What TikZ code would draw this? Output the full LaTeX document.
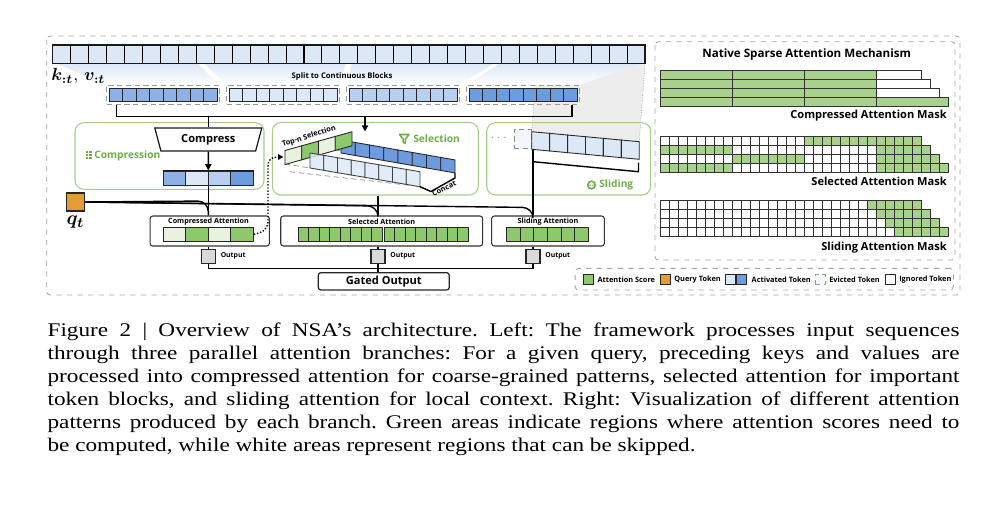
\documentclass[tikz,border=0pt]{standalone}
\usepackage{amsmath}
\usepackage{bm}
\usepackage{fontspec}
\setmainfont{Liberation Serif}[FakeStretch=1.2]
\newfontfamily\figfont{Open Sans}
\usepackage{tikz}
\usetikzlibrary{positioning}
\usetikzlibrary{calc}
\usetikzlibrary{arrows.meta}
\usetikzlibrary{shapes.geometric}
\frenchspacing

\definecolor{tokA}{HTML}{DDE8F7}
\definecolor{tokB}{HTML}{B9CFEF}
\definecolor{tokC}{HTML}{8EB0E4}
\definecolor{tokD}{HTML}{6E9BDE}
\definecolor{attG}{HTML}{8DC86C}
\definecolor{attL}{HTML}{E8F2DF}
\definecolor{maskG}{HTML}{A9D18E}
\definecolor{qOrange}{HTML}{E59B36}
\definecolor{brGreen}{HTML}{A4CF8A}
\definecolor{txGreen}{HTML}{6FAE45}
\definecolor{outGray}{HTML}{D9D9D9}
\definecolor{frameGray}{HTML}{A6A6A6}

\newcommand{\ff}[1]{\figfont\bfseries\fontsize{#1}{#1}\selectfont}

\tikzset{
  lbl/.style={inner sep=0pt},
  cell/.style={draw=black!85, line width=0.5pt},
  mcell/.style={draw=black!80, line width=0.35pt},
  attbox/.style={draw=black!80, rounded corners=1.5pt, line width=0.6pt, minimum height=0.6cm, inner sep=0pt},
  outbox/.style={draw=black!85, fill=outGray, line width=0.7pt, minimum size=0.28cm, inner sep=0pt},
  grbox/.style={draw=brGreen, rounded corners=5pt, line width=0.6pt, inner sep=0pt},
  tokframe/.style={draw=black!40, densely dashed, line width=0.4pt, minimum width=2.25cm, minimum height=0.38cm, inner sep=0pt},
  legsq/.style={draw=black!85, line width=0.5pt, minimum size=0.2cm, inner sep=0pt},
  wire/.style={line width=0.8pt},
  capline/.style={anchor=base west, inner sep=0pt, font=\fontsize{11}{13}\selectfont},
}

\begin{document}
\begin{tikzpicture}[x=0.02cm, y=-0.02cm]
\useasboundingbox (0,0) rectangle (1000,504);

% frames
\draw[frameGray, dashed, line width=0.5pt, rounded corners=2pt] (46.7,36) rectangle (960,295);
\draw[frameGray, dashed, line width=0.5pt, rounded corners=2pt] (655,41.7) rectangle (955,260);

% sliding window shadow
\fill[black!7] (537,63.3) -- (645,63.3) -- (639.3,141.7) -- (531.7,131.7) -- cycle;
\draw[black!40, densely dotted] (537,63.3) -- (531.7,131.7);
\draw[black!40, densely dotted] (645,63.3) -- (639.3,141.7);

% split shading
\foreach \i in {0,...,3}
  \shade[top color=tokA, bottom color=white] ({55.7+148.1*\i},63.3) -- ({197.8+148.1*\i},63.3) -- ({219.3+120*\i},85) -- ({106.7+120*\i},85) -- cycle;

% green branch boxes
\node[grbox, minimum width=3.78cm, minimum height=1.332cm] (gcomp) at (169.5,156) {};
\node[grbox, minimum width=4.12cm, minimum height=1.45cm] (gsel) at (375.3,158.75) {};
\node[grbox, minimum width=3.28cm, minimum height=1.446cm] (gslid) at (568.7,158.85) {};

% keys / values
\node[draw=black!90, fill=tokA, line width=0.7pt, minimum width=11.846cm, minimum height=0.366cm, inner sep=0pt] (kv) at (348.85,54.15) {};
\foreach \i in {1,...,32}
  \draw[line width=0.6pt] ({52.7+17.95*\i},45) -- ({52.7+17.95*\i},63.3);
\node[lbl, anchor=west, font=\fontsize{10}{10}\selectfont] (kvlab) at (51,76) {$\bm{k_{:t}},\,\bm{v_{:t}}$};
\node[lbl, font=\ff{4.4}] (split) at (342,76) {Split to Continuous Blocks};

% blocks
\foreach \i/\c in {0/tokC,1/tokA,2/tokB,3/tokD} {
  \node[tokframe] (b\i) at ({163+120*\i},94.7) {};
  \foreach \j in {0,...,7}
    \draw[cell, fill=\c] ({109+120*\i+13.5*\j},88) rectangle ++(13.5,13.5);
}
\coordinate (bus) at (0,115.7);
\draw[wire] ($(b0.south west)+(10,0)$) -- ($(b0.south west)+(10,11.7)$) -| ($(b3.south east)+(-7.5,0)$);

% compression
\node[draw=black!90, fill=white, line width=0.7pt, trapezium, shape border rotate=180, trapezium left angle=60, trapezium right angle=60, trapezium stretches body, minimum width=2.14cm, minimum height=0.46cm, inner sep=0pt, font=\ff{6.3}] (cmp) at (208.3,139.5) {Compress};
\draw[wire] (cmp.north |- bus) -- (cmp.north);
\node[draw=black!90, line width=0.7pt, minimum width=1.8cm, minimum height=0.28cm, inner sep=0pt] (ctok) at (208.3,178) {};
\foreach \j/\c in {0/tokC,1/tokA,2/tokB,3/tokD}
  \draw[cell, fill=\c] ({163.3+22.5*\j},171) rectangle ++(22.5,14);
\draw[wire, -{Triangle[length=3.5pt,width=3.5pt]}] (cmp.south) -- (ctok.north);
\foreach \a in {0,1} \foreach \b in {0,1,2}
  \fill[txGreen] ({85.5+\a*3.6},{151.3+\b*2.8}) rectangle ++(2.6,1.7);
\node[lbl, anchor=west, text=txGreen, font=\ff{5.8}] (lcomp) at (94,155.5) {Compression};

% selection
\coordinate (selin) at (365,131.5);
\draw[wire, -{Triangle[length=3.5pt,width=3.5pt]}] (selin |- bus) -- (selin);
\draw[txGreen, line width=0.9pt, line join=round] (399.5,134.5) -- (409,134.5) -- (405.3,139.3) -- (405.3,143.5) -- (403.2,142) -- (403.2,139.3) -- cycle;
\node[lbl, anchor=west, text=txGreen, font=\ff{5.8}] (lsel) at (413,139) {Selection};
\draw[black!45, densely dashed, line width=0.4pt] (285,164) -- (310,168);
\draw[black!45, densely dashed, line width=0.4pt] (290,171.7) -- (421.7,186.7);
\draw[black!45, densely dashed, line width=0.4pt] (318,147) -- (447,169);
\foreach \j in {0,...,7}
  \draw[cell, fill=tokD] ({341+14.25*\j},{140+2.49*\j}) -- ++(14.25,2.49) -- ++(0,13) -- ++(-14.25,-2.49) -- cycle;
\foreach \j/\c in {0/attL,1/attG,2/attL,3/attG}
  \draw[cell, fill=\c] ({285+16.75*\j},{150.5-4.69*\j}) -- ++(16.75,-4.69) -- ++(0,14) -- ++(-16.75,4.69) -- cycle;
\foreach \j in {0,...,7}
  \draw[cell, draw=black!75, fill=tokA, fill opacity=0.85] ({310+13.75*\j},{153+2.34*\j}) -- ++(13.75,2.34) -- ++(0,15) -- ++(-13.75,-2.34) -- cycle;
\draw[wire] (420,186.7) -- (431,191.5) -- (455,178) -- (455,173);
\node[lbl, rotate=26, font=\ff{4.2}] (concat) at (444,188.5) {Concat};
\node[lbl, rotate=18, font=\ff{4.2}] (topn) at (309,136.5) {Top-n Selection};
\coordinate (tsel) at (283.5,157);

% sliding
\node[lbl] (dots) at (500,138) {\textcolor{black!50}{\ff{6}$\cdots$}};
\node[draw=black!45, densely dashed, fill=tokA!35, minimum width=0.354cm, minimum height=0.38cm, inner sep=0pt] (ev) at (522.8,138.8) {};
\foreach \j in {0,...,5}
  \draw[cell, fill=tokA] ({531.7+17.93*\j},{131.7+1.667*\j}) -- ++(17.93,1.667) -- ++(0,17.6) -- ++(-17.93,-1.667) -- cycle;
\draw[wire] (533,161.7) -- (638.5,171.7) -- (638.5,162.5);
\coordinate (wl) at (533,149.5);
\draw[txGreen, line width=0.9pt] (591.5,185) circle (3.8);
\fill[txGreen] (590,185.3) circle (0.9) (593,185.3) circle (0.9);
\node[lbl, anchor=west, text=txGreen, font=\ff{5.8}] (lslid) at (599,185) {Sliding};

% query
\node[draw=black!85, fill=qOrange, line width=0.7pt, minimum size=0.36cm, inner sep=0pt] (q) at (75.8,202) {};
\node[lbl, font=\fontsize{11}{11}\selectfont] (qlab) at (75.5,222) {$\bm{q_t}$};

% attention branches
\node[attbox, minimum width=2.386cm] (catt) at (209.7,231) {};
\node[attbox, minimum width=4.04cm] (satt) at (381.7,231) {};
\node[attbox, minimum width=2.252cm] (watt) at (548,231) {};
\node[lbl, font=\ff{4.1}] (t1) at (208.5,221.5) {Compressed Attention};
\node[lbl, font=\ff{4.1}] (t2) at (381.7,221.5) {Selected Attention};
\node[lbl, font=\ff{4.1}] (t3) at (548,221.5) {Sliding Attention};
\node[draw=black!85, line width=0.6pt, minimum width=1.8cm, minimum height=0.27cm, inner sep=0pt] (cac) at (208.3,234.3) {};
\foreach \j/\c in {0/attL,1/attG,2/attL,3/attG}
  \draw[cell, fill=\c] ({163.3+22.5*\j},227.5) rectangle ++(22.5,13.5);
\foreach \j in {0,...,7}
  \draw[cell, fill=attG] ({298.3+10.5*\j},227.5) rectangle ++(10.5,13.5);
\foreach \j in {0,...,7}
  \draw[cell, fill=attG] ({384.3+10.5*\j},227.5) rectangle ++(10.5,13.5);
\foreach \j in {0,...,5}
  \draw[cell, fill=attG] ({506.7+13.6*\j},227.8) rectangle ++(13.6,13.6);

% outputs
\node[outbox] (o1) at (208.3,256.3) {};
\node[outbox] (o2) at (378,256.3) {};
\node[outbox] (o3) at (533,256.3) {};
\node[lbl, right=0.09cm of o1, font=\ff{3.9}] (ol1) {Output};
\node[lbl, right=0.09cm of o2, font=\ff{3.9}] (ol2) {Output};
\node[lbl, right=0.09cm of o3, font=\ff{3.9}] (ol3) {Output};
\node[draw=black!85, line width=0.7pt, rounded corners=1.5pt, minimum width=2.62cm, minimum height=0.346cm, inner sep=0pt, font=\ff{6.3}] (gated) at (383.8,281.3) {Gated Output};
\coordinate (bot) at (0,268.3);

\draw[wire] (ctok.south) -- (catt.north -| ctok.south);
\draw[wire] (gsel.south -| o2) -- (satt.north -| o2);
\draw[wire] (wl) -- (watt.north -| o3);
\draw[wire, rounded corners=6pt] (q.east) -- (208.3,201) -- (catt.north -| o1);
\draw[wire, rounded corners=6pt] (q.east) -- (378,206) -- (satt.north -| o2);
\draw[wire, rounded corners=6pt] (q.east) -- (533,207.5) -- (watt.north -| o3);
\draw[wire] (catt.south -| o1) -- (o1.north);
\draw[wire] (satt.south -| o2) -- (o2.north);
\draw[wire] (watt.south -| o3) -- (o3.north);
\draw[wire] (o1.south) -- (o1.south |- bot) -| (o3.south);
\draw[wire] (o2.south) -- (gated.north -| o2);
\draw[wire, densely dotted, -{Triangle[length=3pt,width=3pt]}] (cac.east) .. controls (265,232) and (268,228) .. (268,220) -- (268,166) .. controls (268,159) and (272,157) .. (tsel);

% right panel
\node[lbl, font=\ff{6.6}] (nsa) at (806.7,54) {Native Sparse Attention Mechanism};
\foreach \r in {0,...,3}
  \foreach \k in {0,1,2}
    \draw[mcell, line width=0.6pt, fill=maskG] ({660.7+72*\k},{70.7+8.85*\r}) rectangle ++(72,8.85);
\foreach \r/\w/\c in {0/45/white,1/54/white,2/63/white,3/72/maskG}
  \draw[mcell, line width=0.6pt, fill=\c] (876.7,{70.7+8.85*\r}) rectangle ++(\w,8.85);
\node[lbl, anchor=east, font=\ff{6.3}] (m1) at (947,116) {Compressed Attention Mask};

\foreach \r/\a/\b in {0/16/13,1/0/8,1/24/6,2/8/8,2/24/7,3/0/8,3/24/8}
  \fill[maskG] ({660.7+9*\a},{136.7+8.85*\r}) rectangle ++({9*\b},8.85);
\foreach \r/\n in {0/28,1/29,2/30,3/31}
  \foreach \c in {0,...,\n}
    \draw[mcell] ({660.7+9*\c},{136.7+8.85*\r}) rectangle ++(9,8.85);
\node[lbl, anchor=east, font=\ff{6.3}] (m2) at (947,181.7) {Selected Attention Mask};

\foreach \r in {0,...,3}
  \fill[maskG] ({660.7+9*(23+\r)},{200.7+8.9*\r}) rectangle ++(54,8.9);
\foreach \r/\n in {0/28,1/29,2/30,3/31}
  \foreach \c in {0,...,\n}
    \draw[mcell] ({660.7+9*\c},{200.7+8.9*\r}) rectangle ++(9,8.9);
\node[lbl, anchor=east, font=\ff{6.3}] (m3) at (947,247.3) {Sliding Attention Mask};

% legend
\node[draw=frameGray, dashed, line width=0.5pt, rounded corners=2pt, minimum width=7.566cm, minimum height=0.434cm, inner sep=0pt] (leg) at (764.2,279.2) {};
\node[legsq, fill=attG] (lg1) at (588.3,279.7) {};
\node[lbl, right=0.07cm of lg1, font=\ff{4.2}] (lt1) {Attention Score};
\node[legsq, fill=qOrange] (lg2) at (665,279.7) {};
\node[lbl, right=0.07cm of lg2, font=\ff{4.2}] (lt2) {Query Token};
\node[legsq, fill=tokA] (lg3) at (730,279.7) {};
\node[legsq, fill=tokD, right=0.02cm of lg3] (lg3b) {};
\node[lbl, right=0.08cm of lg3b, font=\ff{4.2}] (lt3) {Activated Token};
\node[legsq, draw=black!40, densely dashed, fill=tokA!35] (lg4) at (820,279.7) {};
\node[lbl, right=0.07cm of lg4, font=\ff{4.2}] (lt4) {Evicted Token};
\node[legsq, fill=white] (lg5) at (890,279.7) {};
\node[lbl, right=0.07cm of lg5, font=\ff{4.2}] (lt5) {Ignored Token};

% caption
\node[capline] (cap1) at (47.3,336) {\makebox[18.24cm][s]{Figure 2 | Overview of NSA’s architecture. Left: The framework processes input sequences}};
\node[capline] (cap2) at (47.3,359.3) {\makebox[18.24cm][s]{through three parallel attention branches: For a given query, preceding keys and values are}};
\node[capline] (cap3) at (47.3,382.7) {\makebox[18.24cm][s]{processed into compressed attention for coarse-grained patterns, selected attention for important}};
\node[capline] (cap4) at (47.3,405.5) {\makebox[18.24cm][s]{token blocks, and sliding attention for local context. Right: Visualization of different attention}};
\node[capline] (cap5) at (47.3,428.3) {\makebox[18.24cm][s]{patterns produced by each branch. Green areas indicate regions where attention scores need to}};
\node[capline] (cap6) at (47.3,451.7) {be computed, while white areas represent regions that can be skipped.};
\end{tikzpicture}
\end{document}
